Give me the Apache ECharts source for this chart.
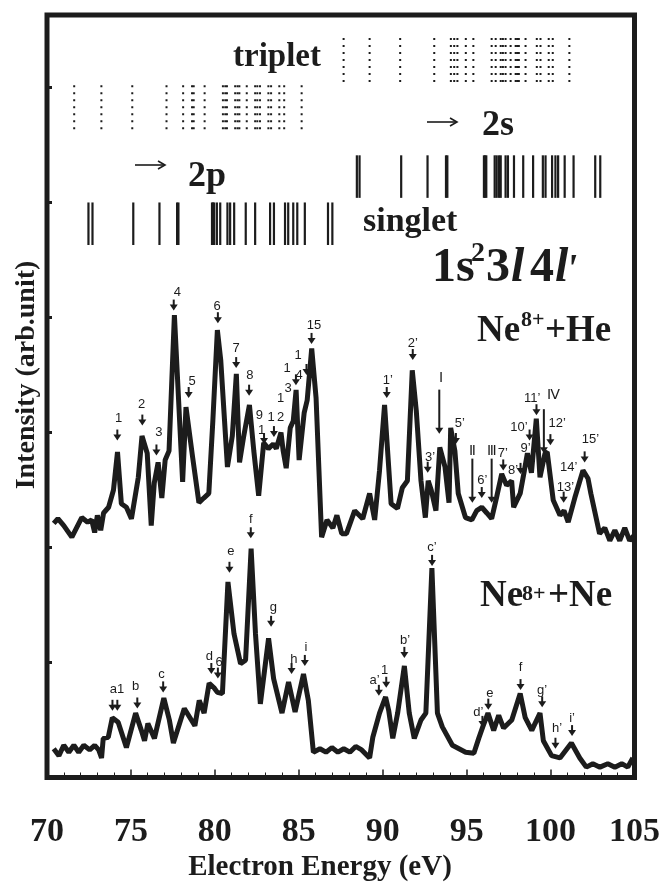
<!DOCTYPE html>
<html>
<head>
<meta charset="utf-8">
<script src="https://cdn.jsdelivr.net/npm/echarts@6/dist/echarts.min.js"></script>
<style>
  html, body { margin: 0; padding: 0; background: #fff; }
  #main { width: 663px; height: 885px; }
</style>
</head>
<body>
<div id="main"></div>
<script>
// spectrum Ne8+ + He (upper curve), energy in eV / intensity arb. unit
var heEnergy = [70.40,70.65,71.00,71.48,72.07,72.42,72.66,72.84,73.00,73.20,73.37,73.67,73.96,74.20,74.43,74.73,75.03,75.44,75.66,75.97,
  76.21,76.39,76.62,76.84,77.04,77.27,77.59,78.08,78.28,78.68,79.05,79.34,79.64,79.88,80.15,80.35,80.75,81.04,81.28,81.47,
  81.71,82.06,82.32,82.61,82.91,83.19,83.48,83.66,83.94,84.07,84.25,84.49,84.67,84.84,85.02,85.32,85.50,85.77,86.03,86.36,
  86.68,87.03,87.27,87.56,87.84,88.33,88.81,89.22,89.52,89.81,90.11,90.50,90.88,91.17,91.47,91.76,92.00,92.28,92.54,92.71,
  92.89,93.17,93.40,93.71,93.95,94.05,94.30,94.50,94.93,95.31,95.60,95.90,96.20,96.49,96.79,97.09,97.38,97.68,97.80,98.19,
  98.44,98.62,98.86,99.15,99.37,99.67,99.80,100.16,100.56,100.80,101.05,101.44,101.93,102.23,102.40,102.92,103.23,103.53,103.83,104.12,
  104.42,104.71,104.95];
var heIntensity = [2.21,2.25,2.19,2.09,2.26,2.22,2.24,2.13,2.28,2.15,2.30,2.35,2.50,2.83,2.38,2.35,2.25,2.61,2.97,2.82,
  2.19,2.56,2.74,2.43,2.76,2.84,4.02,2.57,3.22,2.78,2.39,2.43,2.47,3.10,3.89,3.63,2.70,2.97,3.51,2.74,
  2.96,3.24,2.84,2.45,2.91,2.86,2.90,2.86,3.00,2.84,2.69,3.04,3.10,3.37,2.76,3.17,3.28,3.73,3.30,2.09,
  2.24,2.17,2.28,2.12,2.12,2.32,2.25,2.47,2.24,2.67,3.24,2.38,2.34,2.52,2.58,3.54,3.19,2.58,2.26,2.58,
  2.50,2.32,2.87,2.70,2.39,3.04,2.84,2.47,2.26,2.24,2.32,2.35,2.30,2.25,2.44,2.64,2.54,2.58,2.35,2.47,
  2.67,2.82,2.65,3.12,2.61,2.82,2.83,2.41,2.28,2.32,2.22,2.43,2.67,2.60,2.47,2.12,2.17,2.06,2.15,2.06,
  2.17,2.06,2.10];

// spectrum Ne8+ + Ne (lower curve)
var neEnergy = [70.40,70.71,71.00,71.30,71.60,71.89,72.19,72.54,72.84,73.08,73.25,73.35,73.65,73.89,74.24,74.73,75.28,75.62,75.81,76.01,
  76.40,76.96,77.29,77.53,78.18,78.81,79.07,79.36,79.66,79.95,80.15,80.45,80.78,81.14,81.53,81.83,82.16,82.42,82.71,83.20,
  83.50,84.00,84.39,84.78,85.28,85.57,85.87,86.26,86.62,86.97,87.33,87.68,88.04,88.39,88.75,89.22,89.41,89.81,90.17,90.36,
  90.60,90.89,91.29,91.58,91.88,92.28,92.57,92.93,93.26,93.55,94.15,94.94,95.43,95.72,95.96,96.27,96.61,96.91,97.20,97.69,
  98.19,98.49,98.88,99.37,99.57,100.06,100.56,101.24,101.74,102.13,102.52,102.94,103.41,103.83,104.24,104.60,104.90];
var neIntensity = [0.25,0.19,0.28,0.22,0.28,0.22,0.28,0.24,0.28,0.24,0.17,0.34,0.35,0.52,0.48,0.26,0.56,0.41,0.32,0.47,
  0.34,0.69,0.50,0.30,0.60,0.45,0.67,0.56,0.82,0.78,0.74,0.73,1.70,1.25,0.99,1.02,1.99,1.25,0.64,1.21,
  0.86,0.56,0.83,0.57,0.90,0.67,0.22,0.25,0.22,0.26,0.22,0.25,0.22,0.27,0.24,0.17,0.35,0.56,0.70,0.58,
  0.34,0.56,0.97,0.56,0.34,0.50,0.56,1.82,0.56,0.44,0.28,0.22,0.21,0.34,0.44,0.56,0.41,0.54,0.43,0.50,
  0.73,0.52,0.41,0.56,0.32,0.19,0.17,0.30,0.17,0.09,0.12,0.09,0.12,0.09,0.12,0.09,0.17];

// calculated 1s2 3l4l' levels (eV)
var triplet2s = [87.67,89.22,91.04,93.07,94.06,94.26,94.45,94.95,95.40,96.49,96.73,97.03,97.16,97.32,97.62,97.92,98.01,98.11,98.51,99.18,99.40,99.89,100.13,101.12];
var triplet2p = [71.62,73.24,75.08,77.12,78.11,78.64,78.74,79.39,80.48,80.62,80.72,81.21,81.35,81.46,81.90,82.40,82.53,82.69,83.19,83.35,83.84,84.13,85.17];
var singlet2s = [88.46,88.62,91.10,92.67,93.77,93.85,96.03,96.10,96.17,96.67,96.79,96.93,97.03,97.32,97.46,97.82,98.37,98.96,99.54,99.70,100.09,100.29,100.45,100.84,101.37,102.66,102.96];
var singlet2p = [72.47,72.71,75.14,76.70,77.75,77.83,79.83,79.89,79.96,80.12,80.32,80.75,80.91,81.15,81.84,82.40,83.29,83.52,84.18,84.37,84.67,84.91,85.36,86.74,87.00];

// peak markers: [energy, tip height]
var peakArrows = [[74.19,2.93],[75.68,3.06],[76.52,2.80],[77.55,4.06],[78.44,3.30],[80.18,3.95],[81.27,3.56],[82.04,3.32],
  [82.93,2.90],[83.52,2.96],[84.83,3.41],[85.46,3.50],[85.76,3.77],
  [90.24,3.30],[91.79,3.63],[92.68,2.65],[94.36,2.90],[95.90,2.43],[97.18,2.67],[98.21,2.64],[98.75,2.93],[99.16,3.15],
  [99.99,2.89],[100.78,2.39],[102.03,2.74],
  [73.90,0.58],[74.19,0.58],[75.38,0.60],[76.92,0.74],[79.79,0.90],[80.18,0.86],[80.87,1.78],[82.14,2.08],[83.35,1.31],
  [84.57,0.90],[85.36,0.97],
  [89.77,0.71],[90.21,0.78],[91.29,1.04],[92.94,1.84],[95.94,0.44],[96.29,0.59],[98.21,0.76],[99.50,0.61],[100.29,0.25],[101.28,0.36]];
var seriesArrows = [[93.37,2.99],[95.34,2.39],[96.49,2.39],[99.60,2.82]];

var peakLabels = ['1','2','3','4','5','6','7','8','9','1','1','1','2','1','3','1','4','15',
  '1’','2’','3’','5’','6’','7’','8’','9’','10’','11’','12’','13’','14’','15’',
  'a','1','b','c','d','6','e','f','g','h','i',
  'a’','1','b’','c’','d’','e','f','g’','h’','i’'];
var peakLabelPos = [[74.27,3.12],[75.63,3.24],[76.67,3.00],[77.77,4.22],[78.64,3.44],[80.14,4.10],[81.27,3.73],[82.08,3.50],
  [82.65,3.15],[82.79,3.02],[83.35,3.13],[83.92,3.30],[83.92,3.13],[84.31,3.56],[84.37,3.38],[84.96,3.67],[85.02,3.50],[85.90,3.93],
  [90.30,3.45],[91.79,3.77],[92.82,2.78],[94.60,3.08],[95.94,2.58],[97.16,2.82],[97.76,2.67],[98.51,2.86],[98.11,3.04],[98.90,3.30],
  [100.39,3.08],[100.88,2.52],[101.08,2.70],[102.37,2.94],
  [73.96,0.77],[74.39,0.77],[75.28,0.79],[76.82,0.90],[79.67,1.05],[80.26,1.00],[80.95,1.97],[82.14,2.24],[83.48,1.48],[84.71,1.03],[85.42,1.13],
  [89.51,0.84],[90.11,0.93],[91.33,1.19],[92.94,2.00],[95.70,0.57],[96.38,0.73],[98.21,0.96],[99.50,0.76],[100.39,0.43],[101.28,0.51]];
var seriesLabels = ['Ⅰ','Ⅱ','Ⅲ','Ⅳ'];
var seriesLabelPos = [[93.47,3.47],[95.34,2.84],[96.49,2.84],[100.19,3.32]];

var xTicks = [70, 75, 80, 85, 90, 95, 100, 105];

var INK = '#1c1c1c';
var SERIF = '"Liberation Serif", "Times New Roman", serif';

function pairs(xs, ys) {
    var out = [];
    for (var i = 0; i < xs.length; i++) out.push([xs[i], ys[i]]);
    return out;
}

function levelRows(list, top, bottom) {
    return list.map(function (e) { return [e, top, bottom]; });
}

function levelSeries(list, top, bottom, dashed) {
    return {
        type: 'custom',
        data: levelRows(list, top, bottom),
        silent: true,
        renderItem: function (params, api) {
            var a = api.coord([api.value(0), api.value(1)]);
            var b = api.coord([api.value(0), api.value(2)]);
            return {
                type: 'line',
                shape: { x1: a[0], y1: a[1], x2: b[0], y2: b[1] },
                style: { stroke: INK, lineWidth: dashed ? 2 : 2.2, lineDash: dashed ? [2, 5] : null }
            };
        }
    };
}

function arrowSeries(list, len) {
    return {
        type: 'custom',
        data: list,
        silent: true,
        renderItem: function (params, api) {
            var p = api.coord([api.value(0), api.value(1)]);
            return {
                type: 'group',
                children: [
                    { type: 'rect', shape: { x: p[0] - 1, y: p[1] - len, width: 2, height: len - 5 }, style: { fill: INK } },
                    { type: 'polygon', shape: { points: [[p[0] - 4, p[1] - 6], [p[0] + 4, p[1] - 6], [p[0], p[1]]] }, style: { fill: INK } }
                ]
            };
        }
    };
}

function labelSeries(pos, texts, font) {
    return {
        type: 'custom',
        data: pos,
        silent: true,
        renderItem: function (params, api) {
            var p = api.coord([api.value(0), api.value(1)]);
            return {
                type: 'text',
                x: p[0], y: p[1],
                style: { text: texts[params.dataIndex], font: font, fill: INK, align: 'center', verticalAlign: 'middle' }
            };
        }
    };
}

// text placed by baseline
function txt(x, base, s, size, extra) {
    extra = extra || {};
    return {
        type: 'text',
        x: x,
        y: base - 0.31 * size,
        style: {
            text: s,
            font: (extra.style || 'normal') + ' ' + (extra.weight || 'bold') + ' ' + size + 'px ' + SERIF,
            fill: INK,
            align: extra.align || 'left',
            verticalAlign: 'middle'
        }
    };
}

// thin "→" drawn as a shape
function rightArrow(x1, x2, y) {
    return {
        type: 'group',
        children: [
            { type: 'line', shape: { x1: x1, y1: y, x2: x2, y2: y }, style: { stroke: INK, lineWidth: 1.6 } },
            { type: 'polyline', shape: { points: [[x2 - 7, y - 4], [x2, y], [x2 - 7, y + 4]] }, style: { stroke: INK, lineWidth: 1.6, fill: null } }
        ]
    };
}

var myChart = echarts.init(document.getElementById('main'));

var option = {
    animation: false,
    backgroundColor: '#fff',
    grid: {
        left: 47, right: 27.5, top: 15, bottom: 107.5,
        show: true, borderWidth: 5, borderColor: INK, backgroundColor: 'transparent'
    },
    xAxis: {
        type: 'value',
        min: 70, max: 105, interval: 5,
        axisLine: { show: false },
        axisTick: { show: true, inside: true, length: 8, lineStyle: { color: INK, width: 1.5 } },
        minorTick: { show: true, splitNumber: 5, length: 5, lineStyle: { color: INK, width: 1 } },
        splitLine: { show: false },
        axisLabel: {
            margin: 38,
            fontFamily: SERIF, fontWeight: 'bold', fontSize: 34, color: INK,
            formatter: function (v) { return xTicks.indexOf(v) >= 0 ? String(v) : ''; }
        }
    },
    yAxis: {
        type: 'value',
        min: 0, max: 6.63, interval: 1,
        axisLine: { show: false },
        axisTick: { show: true, inside: true, length: 5, lineStyle: { color: INK, width: 3 } },
        axisLabel: { show: false },
        splitLine: { show: false }
    },
    graphic: [
        txt(233, 68, 'triplet', 33),
        rightArrow(135, 165, 165),
        txt(188, 188, '2p', 36),
        rightArrow(427, 457, 122),
        txt(482, 137, '2s', 36),
        txt(363, 233, 'singlet', 34),
        txt(432, 283, '1s', 48),
        txt(471, 262, '2', 28),
        txt(486, 283, '3', 48),
        txt(511, 283, 'l', 48, { style: 'italic' }),
        txt(530, 283, '4', 48),
        txt(555, 283, 'l', 48, { style: 'italic' }),
        txt(566, 283, '\'', 40, { style: 'italic' }),
        txt(477, 343, 'Ne', 37),
        txt(521, 327, '8+', 22),
        txt(545, 343, '+He', 37),
        txt(480, 608, 'Ne', 37),
        txt(522, 601, '8+', 22),
        txt(548, 608, '+Ne', 37),
        txt(320, 877, 'Electron Energy (eV)', 29, { align: 'center' }),
        {
            type: 'text', x: 27, y: 375, rotation: Math.PI / 2,
            style: { text: 'Intensity (arb.unit)', font: 'bold 28px ' + SERIF, fill: INK, align: 'center', verticalAlign: 'middle' }
        }
    ],
    series: [
        { type: 'line', data: pairs(heEnergy, heIntensity), symbol: 'none', lineStyle: { color: INK, width: 5 }, silent: true },
        { type: 'line', data: pairs(neEnergy, neIntensity), symbol: 'none', lineStyle: { color: INK, width: 5 }, silent: true },
        levelSeries(triplet2s, 6.43, 6.02, true),
        levelSeries(triplet2p, 6.02, 5.63, true),
        levelSeries(singlet2s, 5.41, 5.04, false),
        levelSeries(singlet2p, 5.00, 4.63, false),
        arrowSeries(peakArrows, 11),
        arrowSeries(seriesArrows, 44),
        labelSeries(peakLabelPos, peakLabels, '13px "Liberation Sans", Arial, sans-serif'),
        labelSeries(seriesLabelPos, seriesLabels, '14px ' + SERIF)
    ]
};

myChart.setOption(option);
</script>
</body>
</html>
